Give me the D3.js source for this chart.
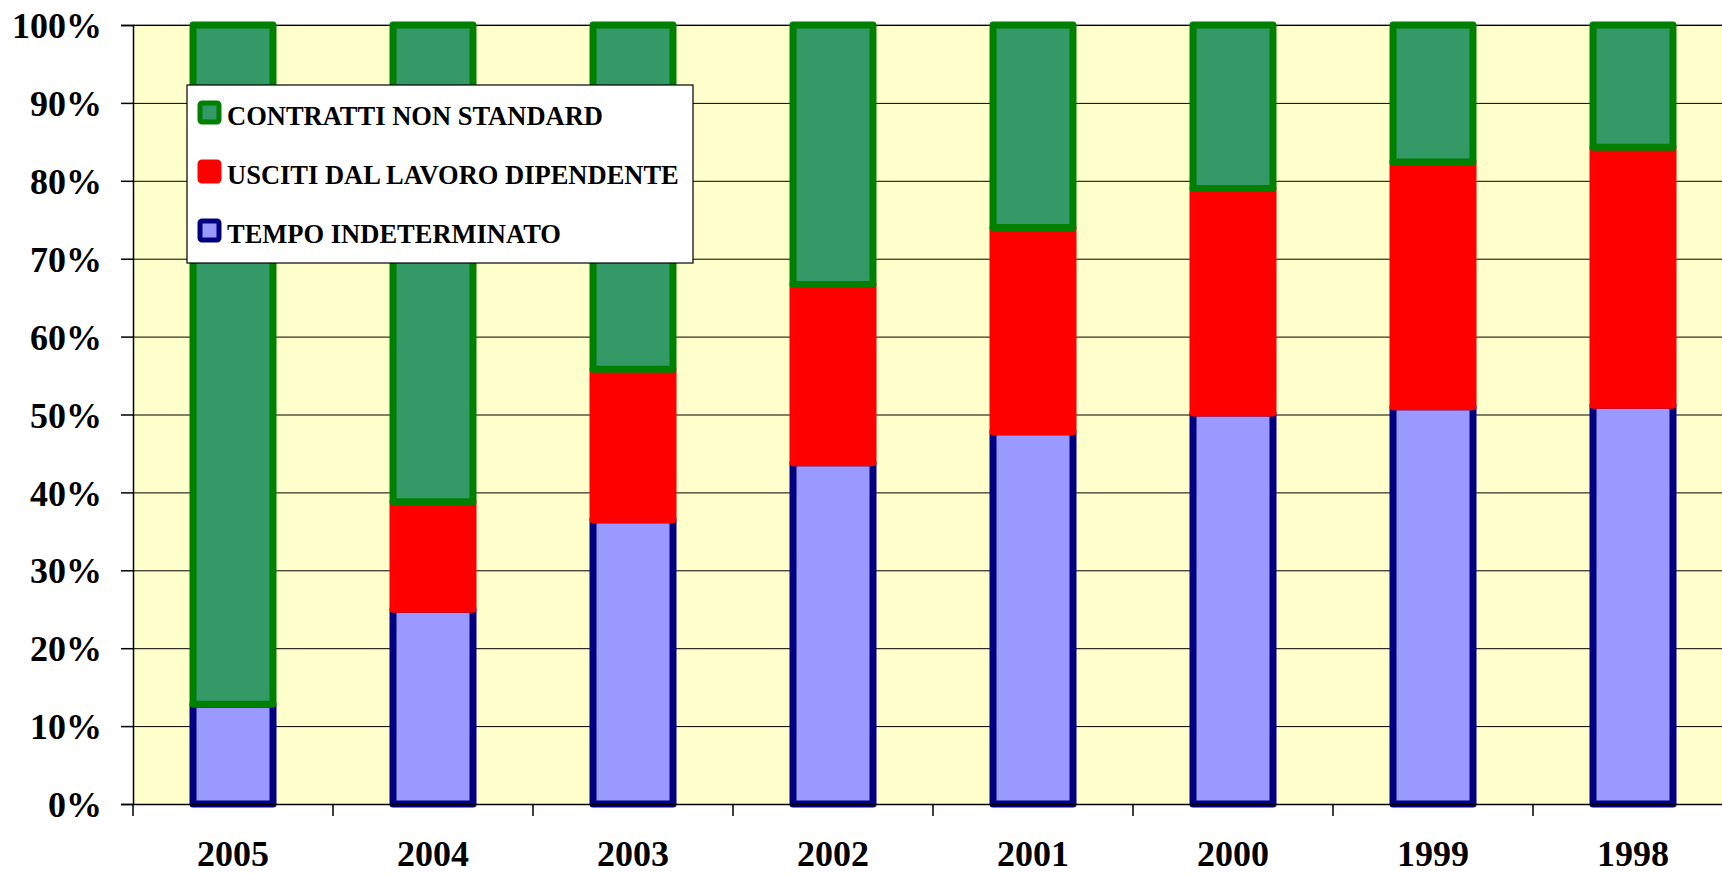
<!DOCTYPE html>
<html>
<head>
<meta charset="utf-8">
<style>
  body { margin: 0; background: #fff; overflow: hidden; }
  svg { display: block; }
  .axis text { font-family: "Liberation Serif", "Times New Roman", serif; font-weight: bold; font-size: 36px; fill: #000; }
  .grid line { stroke: #000; stroke-width: 1; }
  .grid path { stroke: none; }
</style>
</head>
<body>
<script src="https://d3js.org/d3.v7.min.js"></script>
<script>

// Data (percent shares, 100% stacked)
var years = ["2005", "2004", "2003", "2002", "2001", "2000", "1999", "1998"];
var tempoIndeterminato = [12.8, 25.0, 36.5, 43.8, 47.8, 50.2, 51.0, 51.2];
var usciti = [0, 13.8, 19.3, 22.9, 26.2, 28.8, 31.4, 33.1];
var contratti = [87.2, 61.2, 44.2, 33.3, 26.0, 21.0, 17.6, 15.7];
var yTicks = [0, 10, 20, 30, 40, 50, 60, 70, 80, 90, 100];

var seriesNames = ["TEMPO INDETERMINATO", "USCITI DAL LAVORO DIPENDENTE", "CONTRATTI NON STANDARD"];
var fills = ["#9999FF", "#FF0000", "#339966"];
var strokes = ["#000080", "#FF0000", "#008000"];

// Margins
var margin = {top: 25, left: 133},
    width = 1600,
    height = 779;

var svg = d3.select("body")
    .append("svg")
    .attr("width", 1722)
    .attr("height", 875);

var g = svg.append("g")
    .attr("transform", "translate(" + margin.left + "," + margin.top + ")");

var x = d3.scaleBand().domain(years).range([0, width]).padding(0);
var y = d3.scaleLinear().domain([0, 100]).range([height, 0]);

// plot background
g.append("rect")
    .attr("width", width)
    .attr("height", height)
    .attr("fill", "#FFFFCC");

// top border of plot area
g.append("line")
    .attr("x1", 0).attr("x2", width)
    .attr("y1", 0).attr("y2", 0)
    .attr("stroke", "#808080")
    .attr("stroke-width", 1.5);

// gridlines
g.append("g")
    .attr("class", "grid")
    .call(d3.axisLeft(y).tickValues(yTicks).tickSize(-width).tickFormat(""));

// build the stacked table
var table = years.map(function(yr, i) {
    return {year: yr, v: [tempoIndeterminato[i], usciti[i], contratti[i]]};
});

var barW = x.bandwidth() * 0.4;

// draw series in order so later ones overlay earlier strokes
seriesNames.forEach(function(name, s) {
    g.append("g")
        .selectAll("rect")
        .data(table)
        .enter()
        .append("rect")
        .attr("x", function(d) { return x(d.year) + (x.bandwidth() - barW) / 2; })
        .attr("width", barW)
        .attr("y", function(d) { return y(d3.sum(d.v.slice(0, s + 1))); })
        .attr("height", function(d) { return y(d3.sum(d.v.slice(0, s))) - y(d3.sum(d.v.slice(0, s + 1))); })
        .attr("fill", fills[s])
        .attr("stroke", strokes[s])
        .attr("stroke-width", 7)
        .attr("stroke-linejoin", "round");
});

// Y axis
var yAxis = g.append("g")
    .attr("class", "axis")
    .call(d3.axisLeft(y).tickValues(yTicks).tickSize(12).tickPadding(19)
        .tickFormat(function(d) { return d + "%"; }));
yAxis.select(".domain").attr("stroke", "#000").attr("stroke-width", 1.5);
yAxis.selectAll(".tick line").attr("stroke", "#000").attr("stroke-width", 1.5);
yAxis.selectAll("text").attr("dy", "0.35em");

// X axis: ticks at category boundaries
var xAxis = g.append("g")
    .attr("class", "axis")
    .attr("transform", "translate(0," + height + ")")
    .call(d3.axisBottom(x).tickSize(0).tickPadding(36));
xAxis.select(".domain").attr("stroke", "#000").attr("stroke-width", 1.5);
xAxis.selectAll("text").attr("dy", "0.71em");

g.append("g")
    .attr("transform", "translate(0," + height + ")")
    .selectAll("line")
    .data(years)
    .enter()
    .append("line")
    .attr("x1", function(d) { return x(d); })
    .attr("x2", function(d) { return x(d); })
    .attr("y1", 0)
    .attr("y2", 12)
    .attr("stroke", "#000")
    .attr("stroke-width", 1.5);

// Legend
var legend = svg.append("g")
    .attr("transform", "translate(187,85)");

legend.append("rect")
    .attr("width", 506)
    .attr("height", 178)
    .attr("fill", "#fff")
    .attr("stroke", "#000")
    .attr("stroke-width", 1.2);

var legendOrder = [2, 1, 0];
legendOrder.forEach(function(s, i) {
    var row = legend.append("g")
        .attr("transform", "translate(0," + (28 + i * 59) + ")");
    row.append("rect")
        .attr("x", 13)
        .attr("y", -10)
        .attr("width", 19)
        .attr("height", 19)
        .attr("rx", 2)
        .attr("fill", fills[s])
        .attr("stroke", strokes[s])
        .attr("stroke-width", 5)
        .attr("stroke-linejoin", "round");
    row.append("text")
        .attr("x", 40)
        .attr("y", 3)
        .attr("dy", "0.35em")
        .style("font-family", "'Liberation Serif', 'Times New Roman', serif")
        .style("font-weight", "bold")
        .style("font-size", "26.5px")
        .text(seriesNames[s]);
});

</script>
</body>
</html>
